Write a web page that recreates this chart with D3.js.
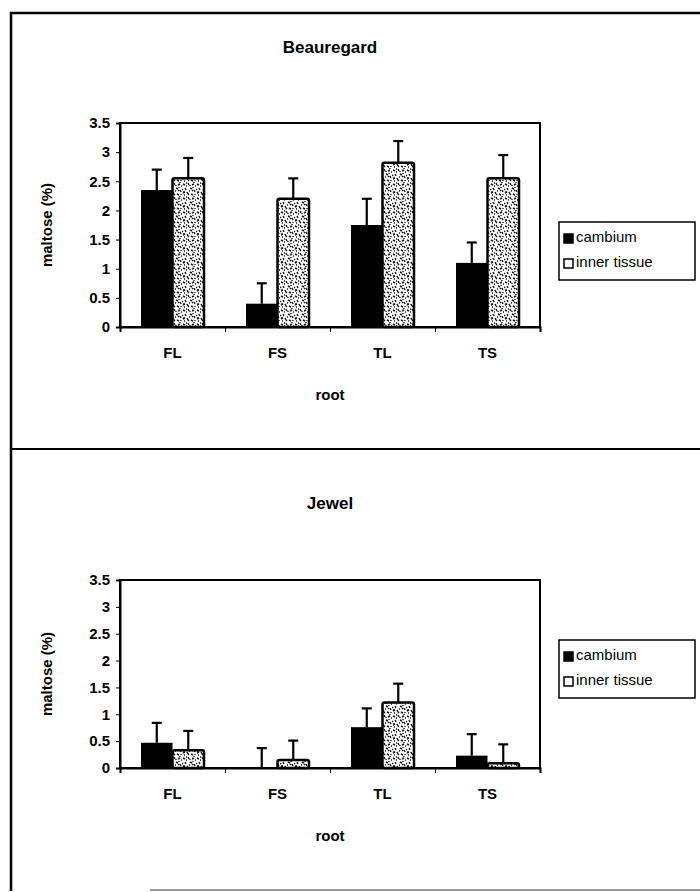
<!DOCTYPE html>
<html>
<head>
<meta charset="utf-8">
<script src="https://cdn.jsdelivr.net/npm/d3@7"></script>
<style>
  body { margin: 0; background: #fff; }
  svg { display: block; font-family: "Liberation Sans", Arial, sans-serif; }
</style>
</head>
<body>
<svg width="700" height="892"></svg>
<script>
// maltose in cambium vs inner tissue, two cultivars

var roots = ["FL", "FS", "TL", "TS"];
var seriesNames = ["cambium", "inner tissue"];
var yTicks = [0, 0.5, 1, 1.5, 2, 2.5, 3, 3.5];

var beauCambium = [2.35, 0.40, 1.75, 1.10];
var beauCambiumErr = [0.35, 0.35, 0.45, 0.35];
var beauInner = [2.55, 2.20, 2.82, 2.55];
var beauInnerErr = [0.35, 0.35, 0.37, 0.40];

var jewelCambium = [0.47, 0.00, 0.76, 0.23];
var jewelCambiumErr = [0.37, 0.37, 0.35, 0.40];
var jewelInner = [0.33, 0.15, 1.22, 0.09];
var jewelInnerErr = [0.36, 0.36, 0.35, 0.35];

var svg = d3.select("svg");

// speckle texture for the inner tissue bars
var pat = svg.append("defs").append("pattern")
    .attr("id", "speckle")
    .attr("patternUnits", "userSpaceOnUse")
    .attr("width", 14).attr("height", 14);
pat.append("rect").attr("width", 14).attr("height", 14).attr("fill", "#fff");
pat.append("path")
    .attr("d", "M1,2l2,1M6,1l1,2M10,3l2,-1M3,6l1,2M8,6l2,1M12,8l1,2M1,11l2,-1M5,10l1,2M9,12l2,1" +
               "M4,4h1M11,5v1M7,9h1M2,13h1M13,12v1M0,7l1,1M6,13l1,-1M10,9l1,-1M12,0v1M4,1h1M2,9v1M8,3v1M13,4h1")
    .attr("stroke", "#111").attr("stroke-width", 1.4).attr("fill", "none");

// outer frame
svg.append("path")
    .attr("d", "M700,13H11V891")
    .attr("fill", "none").attr("stroke", "#000").attr("stroke-width", 2.5);
svg.append("line")
    .attr("x1", 11).attr("x2", 700).attr("y1", 449).attr("y2", 449)
    .attr("stroke", "#000").attr("stroke-width", 2);
svg.append("line")
    .attr("x1", 150).attr("x2", 700).attr("y1", 890).attr("y2", 890)
    .attr("stroke", "#777").attr("stroke-width", 1.5);

function drawChart(opts) {
  var left = 120, right = 540, top = opts.top, bottom = opts.bottom;
  var g = svg.append("g");

  var x0 = d3.scaleBand().domain(roots).range([left, right])
      .paddingInner(0.4).paddingOuter(0.2);
  var x1 = d3.scaleBand().domain(seriesNames).range([0, x0.bandwidth()]);
  var y = d3.scaleLinear().domain([0, 3.5]).range([bottom, top]);

  g.append("text")
      .attr("x", 330).attr("y", opts.titleY)
      .attr("text-anchor", "middle")
      .attr("font-size", 17).attr("font-weight", "bold")
      .text(opts.title);

  // plot border
  g.append("rect")
      .attr("x", left).attr("y", top)
      .attr("width", right - left).attr("height", bottom - top)
      .attr("fill", "none").attr("stroke", "#000").attr("stroke-width", 2);

  var series = [
    {name: "cambium", vals: opts.cambium, errs: opts.cambiumErr, fill: "#000"},
    {name: "inner tissue", vals: opts.inner, errs: opts.innerErr, fill: "url(#speckle)"}
  ];

  series.forEach(function(s) {
    g.append("g").selectAll("rect")
        .data(roots)
        .enter().append("rect")
        .attr("x", function(d) { return x0(d) + x1(s.name); })
        .attr("y", function(d, i) { return y(s.vals[i]); })
        .attr("width", x1.bandwidth())
        .attr("height", function(d, i) { return y(0) - y(s.vals[i]); })
        .attr("fill", s.fill)
        .attr("stroke", "#000")
        .attr("stroke-width", s.name == "cambium" ? 0 : 2.5)
        .attr("rx", s.name == "cambium" ? 0 : 2);

    var eb = g.append("g").selectAll("g")
        .data(roots)
        .enter().append("g")
        .attr("stroke", "#000").attr("stroke-width", 2.2);
    eb.append("line")
        .attr("x1", function(d) { return x0(d) + x1(s.name) + x1.bandwidth() / 2; })
        .attr("x2", function(d) { return x0(d) + x1(s.name) + x1.bandwidth() / 2; })
        .attr("y1", function(d, i) { return y(s.vals[i]); })
        .attr("y2", function(d, i) { return y(s.vals[i] + s.errs[i]); });
    eb.append("line")
        .attr("x1", function(d) { return x0(d) + x1(s.name) + x1.bandwidth() / 2 - 5; })
        .attr("x2", function(d) { return x0(d) + x1(s.name) + x1.bandwidth() / 2 + 5; })
        .attr("y1", function(d, i) { return y(s.vals[i] + s.errs[i]); })
        .attr("y2", function(d, i) { return y(s.vals[i] + s.errs[i]); });
  });

  // y axis
  var yAxis = d3.axisLeft(y).tickValues(yTicks).tickSize(4).tickPadding(6)
      .tickFormat(function(d) { return String(d); });
  var ya = g.append("g").attr("transform", "translate(" + left + ",0)").call(yAxis);
  ya.select(".domain").attr("stroke-width", 2);
  ya.selectAll("text").attr("font-size", 15).attr("font-weight", "bold")
      .attr("font-family", "Liberation Sans, Arial, sans-serif").attr("fill", "#000");

  // x axis: ticks at category boundaries
  var xb = d3.scaleLinear().domain([0, roots.length]).range([left, right]);
  var xAxis = d3.axisBottom(xb).tickValues(d3.range(roots.length + 1)).tickSize(5).tickFormat("");
  var xa = g.append("g").attr("transform", "translate(0," + bottom + ")").call(xAxis);
  xa.select(".domain").attr("stroke-width", 2);

  g.append("g").selectAll("text")
      .data(roots)
      .enter().append("text")
      .attr("x", function(d) { return x0(d) + x0.bandwidth() / 2; })
      .attr("y", bottom + 31)
      .attr("text-anchor", "middle")
      .attr("font-size", 15).attr("font-weight", "bold")
      .text(function(d) { return d; });

  g.append("text")
      .attr("x", 330).attr("y", bottom + 73)
      .attr("text-anchor", "middle")
      .attr("font-size", 15).attr("font-weight", "bold")
      .text("root");

  g.append("text")
      .attr("transform", "translate(52," + ((top + bottom) / 2) + ") rotate(-90)")
      .attr("text-anchor", "middle")
      .attr("font-size", 15).attr("font-weight", "bold")
      .text("maltose (%)");

  // legend
  var lg = g.append("g").attr("transform", "translate(559," + opts.legendY + ")");
  lg.append("rect")
      .attr("width", 136).attr("height", 58)
      .attr("fill", "#fff").attr("stroke", "#000").attr("stroke-width", 1.5);
  seriesNames.forEach(function(name, i) {
    lg.append("rect")
        .attr("x", 5).attr("y", 12 + i * 25)
        .attr("width", 9).attr("height", 9)
        .attr("fill", i == 0 ? "#000" : "#fff")
        .attr("stroke", "#000").attr("stroke-width", 1.5);
    lg.append("text")
        .attr("x", 17).attr("y", 20 + i * 25)
        .attr("font-size", 15)
        .text(name);
  });
}

drawChart({
  title: "Beauregard", titleY: 53, top: 123, bottom: 327, legendY: 222,
  cambium: beauCambium, cambiumErr: beauCambiumErr,
  inner: beauInner, innerErr: beauInnerErr
});

drawChart({
  title: "Jewel", titleY: 509, top: 580, bottom: 768, legendY: 640,
  cambium: jewelCambium, cambiumErr: jewelCambiumErr,
  inner: jewelInner, innerErr: jewelInnerErr
});
</script>
</body>
</html>
